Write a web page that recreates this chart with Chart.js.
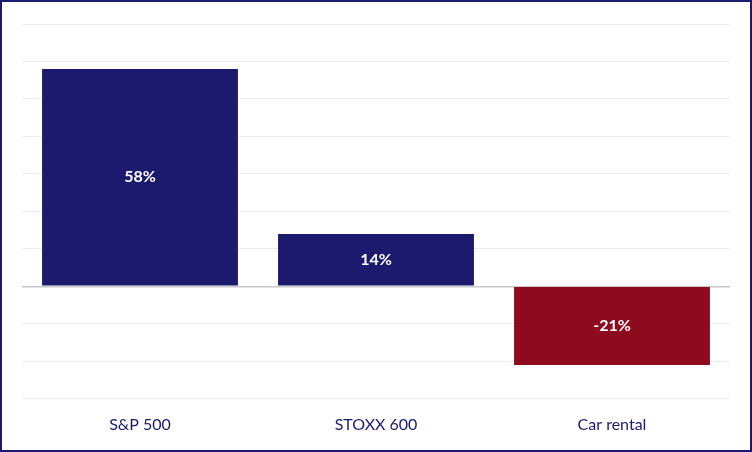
<!DOCTYPE html>
<html><head><meta charset="utf-8">
<script src="https://cdn.jsdelivr.net/npm/chart.js@4"></script>
<style>
html,body{margin:0;padding:0;background:#fff}
#wrap{width:752px;height:452px;box-sizing:border-box;border:2px solid #1b1a6e;position:relative}
</style></head><body>
<div id="wrap"><canvas id="c"></canvas></div>
<script>
const categories = ["S&P 500", "STOXX 600", "Car rental"];
const values = [58, 14, -21];
const barColors = ["#1b1a6e", "#1b1a6e", "#8e0a1e"];

const labelPlugin = {
  id: 'vals',
  afterDatasetsDraw(chart) {
    const ctx = chart.ctx;
    const meta = chart.getDatasetMeta(0);
    ctx.save();
    ctx.fillStyle = '#fff';
    ctx.font = 'bold 16px Lato';
    ctx.textAlign = 'center';
    ctx.textBaseline = 'middle';
    meta.data.forEach((b, i) => {
      ctx.fillText(values[i] + '%', b.x, (b.y + b.base) / 2);
    });
    ctx.restore();
  }
};

new Chart(document.getElementById('c'), {
  type: 'bar',
  data: { labels: categories, datasets: [{ data: values, backgroundColor: barColors, categoryPercentage: 1, barPercentage: 0.83 }] },
  options: {
    responsive: true, maintainAspectRatio: false, animation: false,
    layout: { padding: { left: 20, right: 20, top: 22, bottom: 8 } },
    plugins: { legend: { display: false }, tooltip: { enabled: false } },
    scales: {
      x: { grid: { display: false }, border: { display: false },
           ticks: { color: '#1b1a6e', font: { family: 'Lato', size: 16 }, padding: 8 } },
      y: { min: -30, max: 70, ticks: { display: false, stepSize: 10 },
           border: { display: false },
           grid: { drawTicks: false, color: ctx => ctx.tick.value === 0 ? '#c8c8c8' : '#ececec', lineWidth: ctx => ctx.tick.value === 0 ? 1.5 : 1 } }
    }
  },
  plugins: [labelPlugin]
});
</script></body></html>
